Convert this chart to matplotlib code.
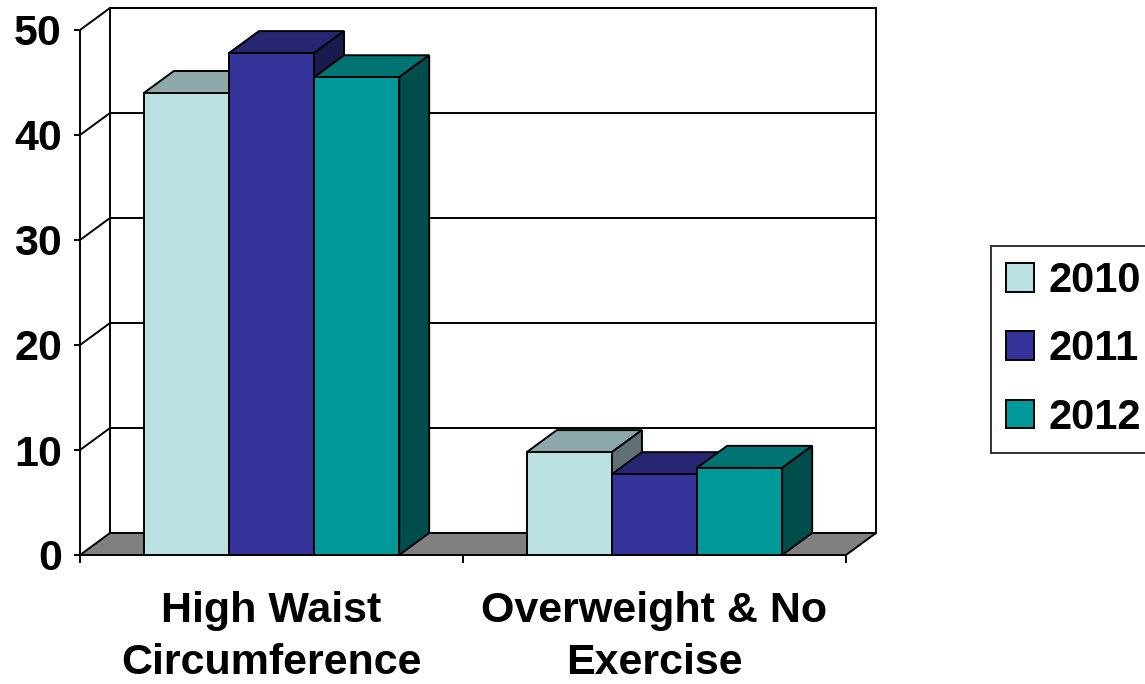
import matplotlib
matplotlib.use("Agg")
import matplotlib.pyplot as plt
from matplotlib.patches import Polygon, Patch

plt.rcParams['font.family'] = ['Liberation Sans', 'DejaVu Sans']
plt.rcParams['font.weight'] = 'bold'

# ---- data ----
categories = ["High Waist\nCircumference", "Overweight & No\nExercise"]
series_names = ["2010", "2011", "2012"]
values_2010 = [44.0, 9.8]
values_2011 = [47.8, 7.7]
values_2012 = [45.5, 8.3]
y_ticks = [0, 10, 20, 30, 40, 50]

front_colors = ["#BBE0E3", "#333399", "#009999"]
top_colors = ["#8CA8AA", "#262673", "#007373"]
side_colors = ["#5E7072", "#1A1A4D", "#004D4D"]

series = [values_2010, values_2011, values_2012]

W, H = 1145, 684
fig = plt.figure(figsize=(W / 100, H / 100), dpi=100)
ax = fig.add_axes([80 / W, 129 / H, 766 / W, 525 / H])
x0, x1 = -0.5, len(categories) - 0.5
ymax = y_ticks[-1]
ax.set_xlim(x0, x1)
ax.set_ylim(0, ymax)

# depth offset (in data units) of the 3D box
DX = 30 / 383.0
DY = 22 / 10.5
LW = 1.4

# back wall
wall = Polygon([(x0 + DX, DY), (x1 + DX, DY), (x1 + DX, ymax + DY), (x0 + DX, ymax + DY)],
               closed=True, facecolor="white", edgecolor="black", lw=LW, clip_on=False, zorder=0.5)
ax.add_patch(wall)
for v in y_ticks[1:]:
    ax.plot([x0 + DX, x1 + DX], [v + DY, v + DY], color="black", lw=LW, clip_on=False, zorder=0.6)
    ax.plot([x0, x0 + DX], [v, v + DY], color="black", lw=LW, clip_on=False, zorder=0.6)

# floor
floor = Polygon([(x0, 0), (x1, 0), (x1 + DX, DY), (x0 + DX, DY)], closed=True,
                facecolor="#808080", edgecolor="black", lw=LW, clip_on=False, zorder=0.8)
ax.add_patch(floor)

# bars
nser = len(series)
bw = 1.0 / (nser + 1.5)
z = 3.0
for ci in range(len(categories)):
    for si in range(nser):
        val = series[si][ci]
        left = ci - nser * bw / 2 + si * bw
        right = left + bw
        rect = ax.bar([left], [val], width=bw, align="edge", color=front_colors[si],
                      edgecolor="black", lw=LW, clip_on=False)[0]
        rect.set_zorder(z + 0.002)
        top = Polygon([(left, val), (right, val), (right + DX, val + DY), (left + DX, val + DY)],
                      closed=True, facecolor=top_colors[si], edgecolor="black", lw=LW,
                      clip_on=False, zorder=z)
        side = Polygon([(right, 0), (right + DX, DY), (right + DX, val + DY), (right, val)],
                       closed=True, facecolor=side_colors[si], edgecolor="black", lw=LW,
                       clip_on=False, zorder=z + 0.001)
        ax.add_patch(top)
        ax.add_patch(side)
        z += 0.01

# axes / ticks
for s in ["top", "right"]:
    ax.spines[s].set_visible(False)
for s in ["left", "bottom"]:
    ax.spines[s].set_linewidth(LW)
    ax.spines[s].set_zorder(0.9)
ax.set_yticks(y_ticks)
ax.set_yticklabels([str(v) for v in y_ticks])
ax.tick_params(axis="y", direction="out", length=4, width=LW, labelsize=31, pad=9)
ax.set_xticks([x0 + i for i in range(len(categories) + 1)])
ax.set_xticklabels([""] * (len(categories) + 1))
ax.tick_params(axis="x", which="major", direction="out", length=6, width=LW)
ax.set_xticks(list(range(len(categories))), minor=True)
ax.set_xticklabels(categories, minor=True, fontsize=31, linespacing=1.38)
ax.tick_params(axis="x", which="minor", length=0, pad=26)
for lab in ax.get_yticklabels() + ax.get_xticklabels(minor=True):
    lab.set_fontweight("bold")

# legend
handles = [Patch(facecolor=front_colors[i], edgecolor="black", lw=LW, label=series_names[i])
           for i in range(nser)]
leg = fig.legend(handles=handles, loc="upper left", bbox_to_anchor=(991 / W, 1 - 246 / H),
                 fontsize=30, frameon=True, fancybox=False, handlelength=0.68, handleheight=0.68,
                 handletextpad=0.35, labelspacing=0.68, borderpad=0.36, borderaxespad=0)
leg.get_frame().set_edgecolor("black")
leg.get_frame().set_linewidth(LW)
for t in leg.get_texts():
    t.set_fontweight("bold")

fig.savefig("out.png", dpi=100)
